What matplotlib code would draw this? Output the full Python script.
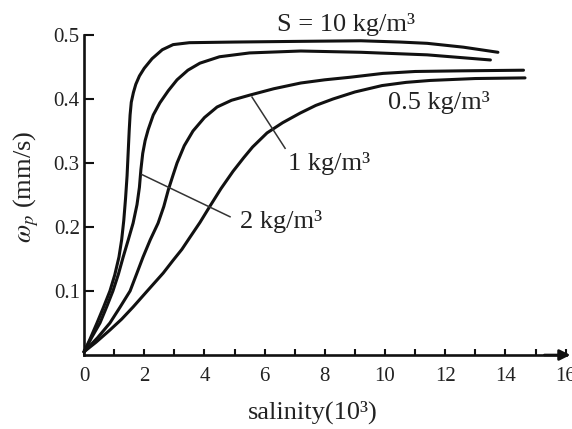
import matplotlib
matplotlib.use("Agg")
import matplotlib.pyplot as plt
from matplotlib.ticker import MultipleLocator

plt.rcParams['font.family'] = ['Liberation Serif', 'DejaVu Serif']
plt.rcParams['mathtext.fontset'] = 'stix'

# values (salinity in 10^3, settling velocity in mm/s)
s10_x = [0, 0.2, 0.43, 0.65, 0.86, 1.02, 1.16, 1.25, 1.32, 1.38, 1.43, 1.47, 1.50, 1.53, 1.57,
         1.64, 1.72, 1.84, 2.0, 2.26, 2.6, 2.96, 3.5, 5.0, 7.0, 9.2, 10.5, 11.4, 12.6, 13.75]
s10_y = [0.005, 0.025, 0.05, 0.075, 0.10, 0.125, 0.153, 0.18, 0.21, 0.245, 0.28, 0.32, 0.35, 0.375, 0.395,
         0.41, 0.423, 0.436, 0.448, 0.463, 0.477, 0.485, 0.488, 0.489, 0.490, 0.491, 0.489, 0.487, 0.481, 0.473]

s2_x = [0, 0.25, 0.53, 0.75, 0.96, 1.14, 1.30, 1.47, 1.63, 1.76, 1.84, 1.89, 1.95, 2.03, 2.13,
        2.3, 2.52, 2.8, 3.09, 3.45, 3.85, 4.5, 5.5, 7.2, 9.2, 11.4, 13.5]
s2_y = [0.005, 0.027, 0.05, 0.075, 0.10, 0.126, 0.153, 0.18, 0.206, 0.235, 0.262, 0.29, 0.315, 0.335, 0.352,
        0.375, 0.394, 0.413, 0.43, 0.445, 0.456, 0.466, 0.472, 0.475, 0.473, 0.469, 0.461]

s1_x = [0, 0.45, 0.86, 1.2, 1.53, 1.75, 1.96, 2.2, 2.46, 2.65, 2.8, 2.95, 3.09, 3.33, 3.62,
        4.0, 4.42, 4.9, 5.5, 6.3, 7.2, 8.0, 8.84, 9.93, 11.0, 12.5, 14.6]
s1_y = [0.005, 0.027, 0.05, 0.075, 0.10, 0.127, 0.153, 0.18, 0.206, 0.232, 0.258, 0.28, 0.30, 0.327, 0.35,
        0.371, 0.3875, 0.398, 0.406, 0.416, 0.425, 0.43, 0.434, 0.44, 0.443, 0.444, 0.445]

s05_x = [0, 0.4, 0.86, 1.25, 1.63, 2.1, 2.63, 2.96, 3.25, 3.52, 3.85, 4.15, 4.55, 4.95, 5.3,
         5.6, 6.08, 6.6, 7.18, 7.7, 8.27, 9.0, 9.9, 10.7, 11.5, 13.0, 14.65]
s05_y = [0.005, 0.02, 0.039, 0.056, 0.075, 0.10, 0.128, 0.148, 0.165, 0.184, 0.207, 0.23, 0.26, 0.287, 0.308,
         0.325, 0.347, 0.363, 0.378, 0.39, 0.40, 0.411, 0.421, 0.426, 0.429, 0.432, 0.433]

# leader lines for the labels
lead1_x = [5.58, 6.68]
lead1_y = [0.403, 0.323]
lead2_x = [1.92, 4.85]
lead2_y = [0.282, 0.216]

fig = plt.figure(figsize=(5.72, 4.29), dpi=100)
ax = fig.add_axes([0.1469, 0.1725, 0.842, 0.7459])

ink = '#111111'
for xs, ys in [(s10_x, s10_y), (s2_x, s2_y), (s1_x, s1_y), (s05_x, s05_y)]:
    ax.plot(xs, ys, color=ink, lw=2.2, solid_joinstyle='round', solid_capstyle='round', clip_on=False)

ax.plot(lead1_x, lead1_y, color='#333333', lw=1.1)
ax.plot(lead2_x, lead2_y, color='#333333', lw=1.1)

ax.text(6.41, 0.516, 'S = 10 kg/m³', fontsize=19, color='#222222', ha='left', va='center')
ax.text(10.1, 0.395, '0.5 kg/m³', fontsize=19, color='#222222', ha='left', va='center')
ax.text(6.78, 0.300, '1 kg/m³', fontsize=19, color='#222222', ha='left', va='center')
ax.text(5.18, 0.208, '2 kg/m³', fontsize=19, color='#222222', ha='left', va='center')

ax.set_xlim(0, 16)
ax.set_ylim(0, 0.5)
ax.spines['top'].set_visible(False)
ax.spines['right'].set_visible(False)
for sp in ['left', 'bottom']:
    ax.spines[sp].set_linewidth(1.9)
    ax.spines[sp].set_color(ink)

ax.xaxis.set_major_locator(MultipleLocator(2))
ax.xaxis.set_minor_locator(MultipleLocator(1))
ax.set_yticks([0.1, 0.2, 0.3, 0.4, 0.5])
ax.set_yticklabels(['0.1', '0.2', '0.3', '0.4', '0.5'])
ax.tick_params(axis='x', which='both', direction='in', length=4, width=1.5, color=ink,
               labelsize=15, pad=9, labelcolor='#222222')
ax.tick_params(axis='y', direction='in', length=7, width=1.5, color=ink,
               labelsize=15, pad=3, labelcolor='#222222')

ax.annotate('', xy=(16.25, 0), xytext=(15.2, 0), xycoords='data',
            arrowprops=dict(arrowstyle='-|>', color=ink, lw=1.9, mutation_scale=16),
            annotation_clip=False)

ax.set_xlabel('salinity(10³)', fontsize=19, color='#222222')
ax.xaxis.set_label_coords(0.475, -0.178)
ax.xaxis.label.set_va('center')
ax.set_ylabel(r'$\omega_p$ (mm/s)', fontsize=19, color='#222222')
ax.yaxis.set_label_coords(-0.12, 0.525)
ax.yaxis.label.set_va('center')

fig.savefig('out.png', dpi=100)
